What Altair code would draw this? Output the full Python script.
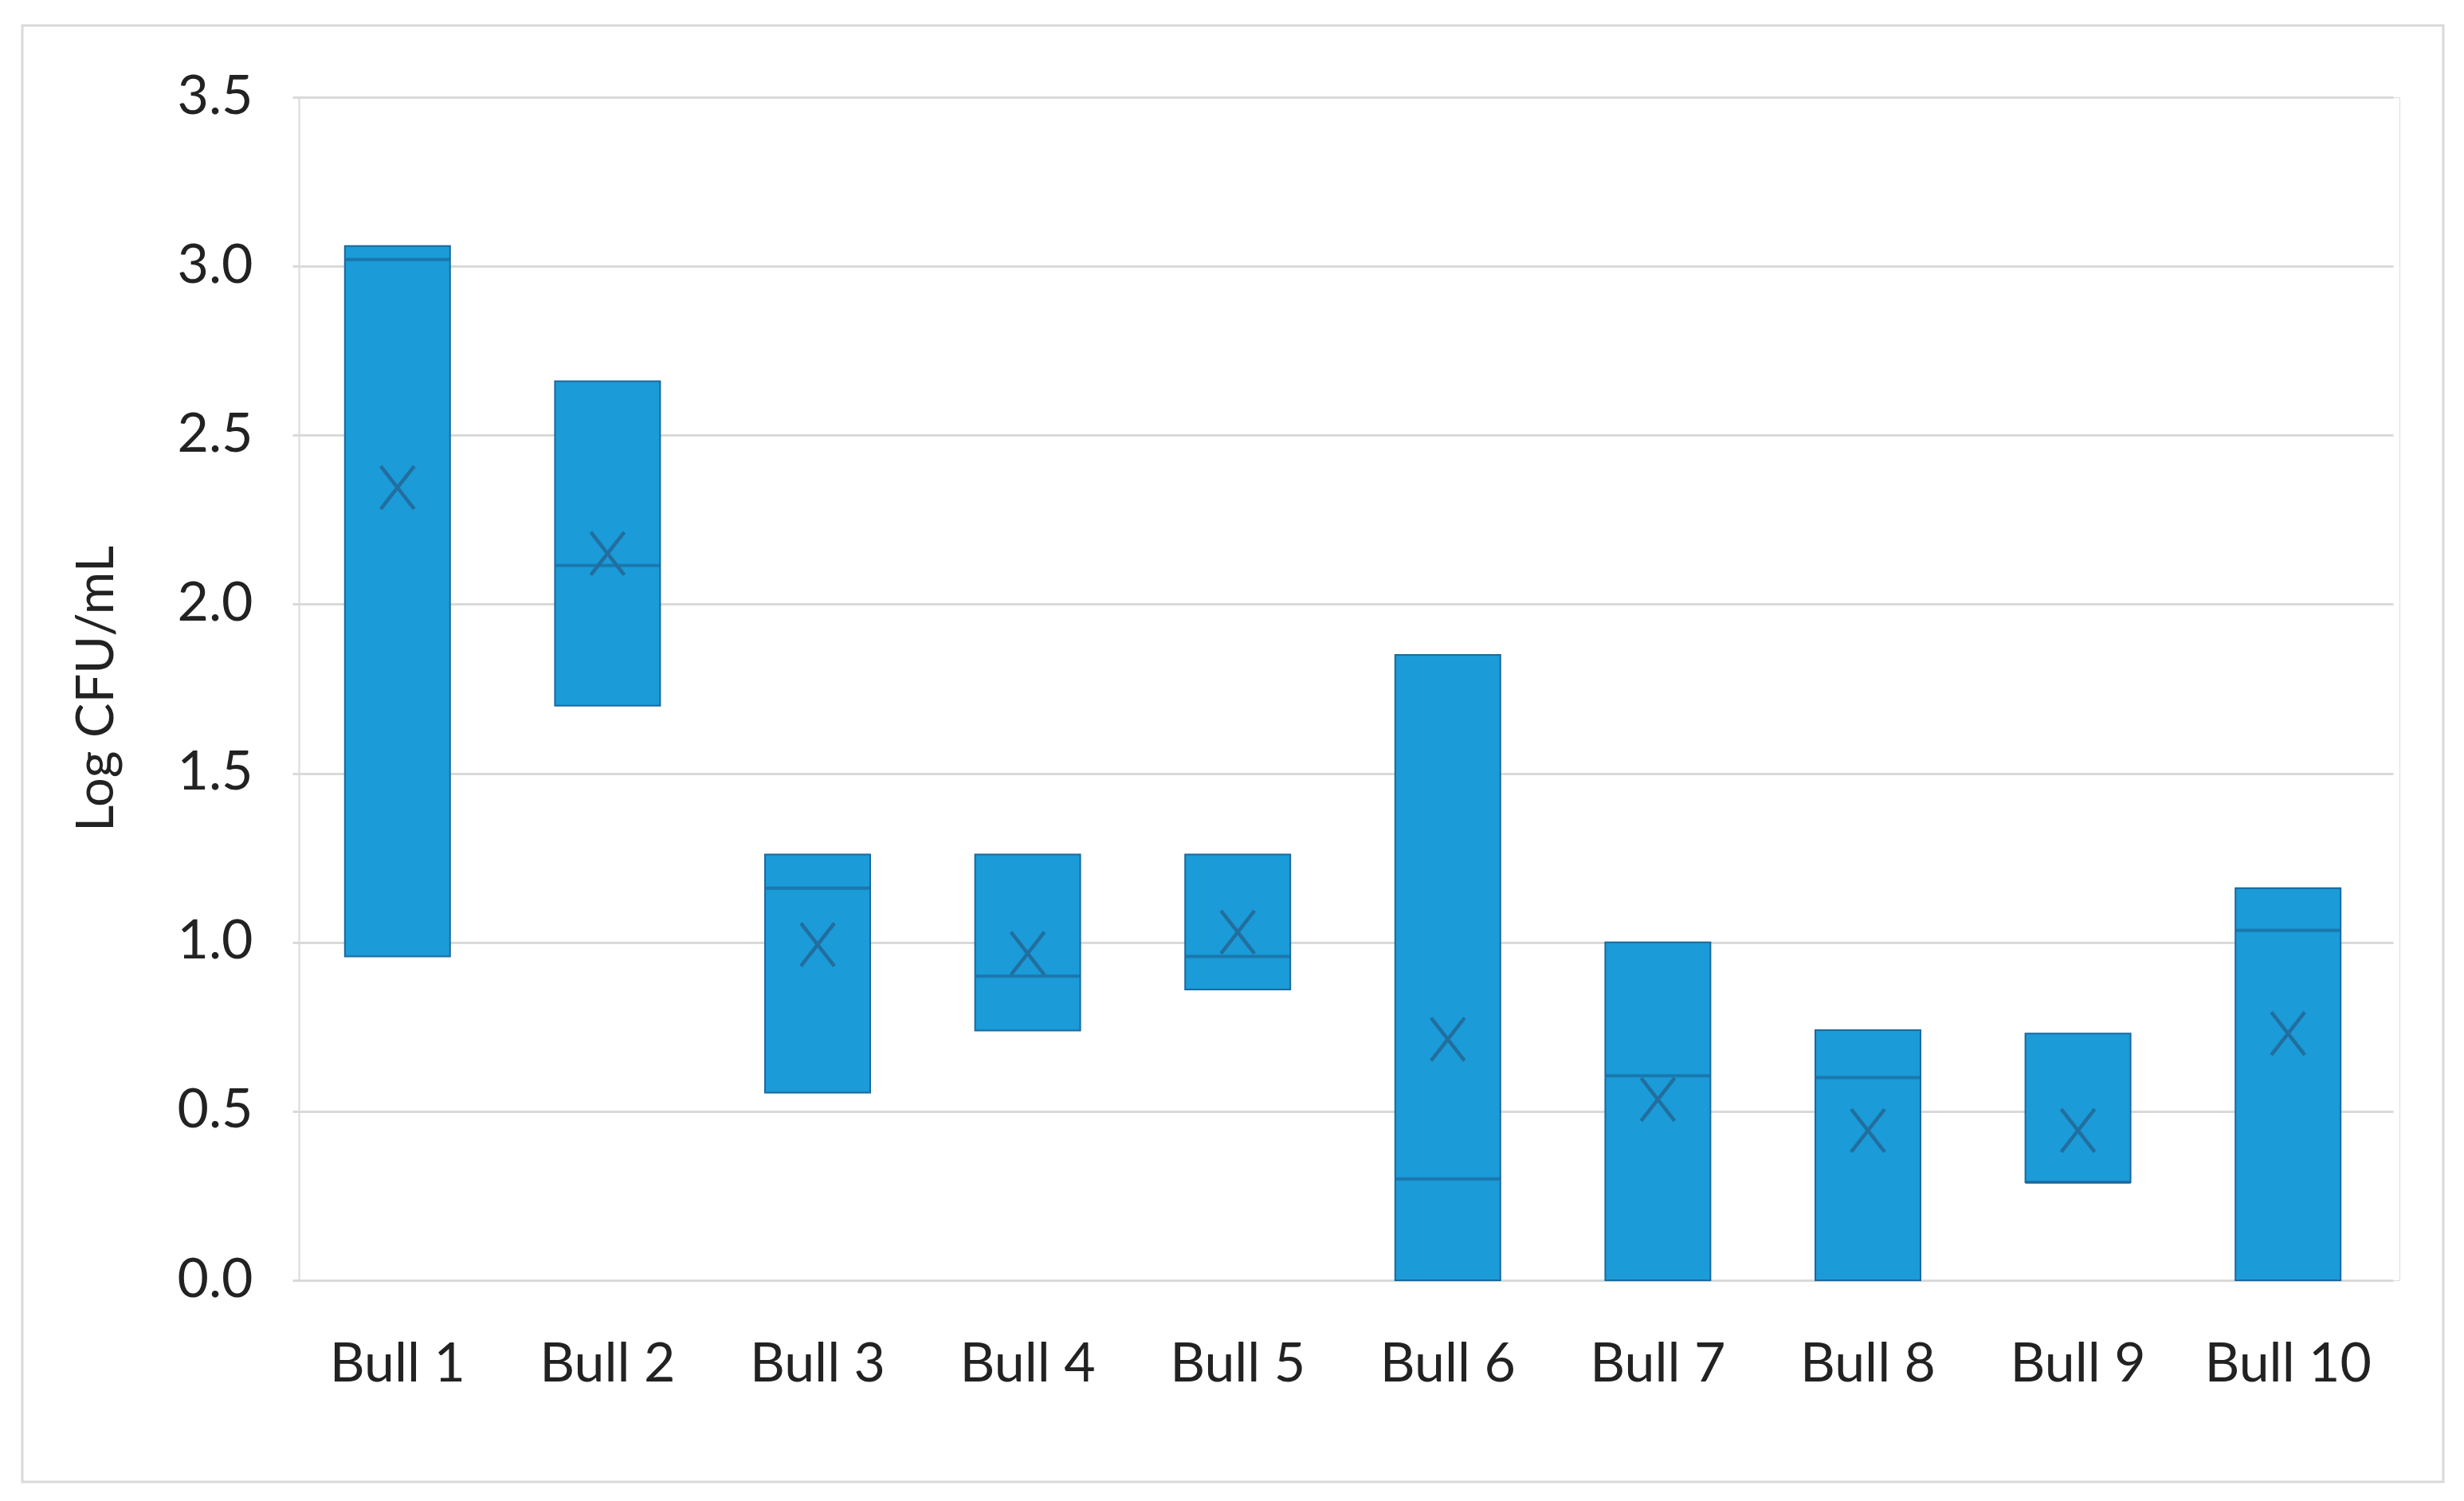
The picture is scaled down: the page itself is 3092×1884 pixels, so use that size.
import altair as alt
import pandas as pd

bulls = ["Bull 1", "Bull 2", "Bull 3", "Bull 4", "Bull 5",
         "Bull 6", "Bull 7", "Bull 8", "Bull 9", "Bull 10"]
low = [0.958, 1.70, 0.555, 0.739, 0.86, 0.0, 0.0, 0.0, 0.29, 0.0]
high = [3.06, 2.66, 1.26, 1.26, 1.26, 1.85, 1.0, 0.74, 0.73, 1.16]
median = [3.02, 2.115, 1.16, 0.90, 0.958, 0.30, 0.605, 0.60, 0.29, 1.035]
mean = [2.345, 2.15, 0.993, 0.967, 1.03, 0.713, 0.535, 0.443, 0.443, 0.73]
y_ticks = [0.0, 0.5, 1.0, 1.5, 2.0, 2.5, 3.0, 3.5]

df = pd.DataFrame({"bull": bulls, "low": low, "high": high,
                   "median": median, "mean": mean})

FONT = "Lato"
FILL = "#1B9BD7"
DARK = "#1A6A9E"
GRID = "#D9D9D9"

W, H = 2636, 1485

x = alt.X("bull:N", sort=bulls, title=None,
          scale=alt.Scale(paddingInner=0, paddingOuter=0, range=[-8, W - 8]),
          axis=alt.Axis(labelAngle=0, labelFont=FONT, labelFontSize=68,
                        labelColor="#222222", labelPadding=72, tickSize=0,
                        labelLimit=0, domain=False))
yscale = alt.Scale(domain=[0, 3.5], nice=False, zero=True)
yaxis = alt.Axis(values=y_ticks, format=".1f", labelFont=FONT, labelFontSize=68,
                 labelColor="#222222", labelPadding=58, tickSize=0,
                 grid=True, gridColor=GRID, gridWidth=3,
                 domain=True, domainColor=GRID, domainWidth=2,
                 title="Log CFU/mL", titleFont=FONT, titleFontSize=65,
                 titleFontWeight="normal", titleColor="#222222",
                 titleAngle=270, titleX=-220, titleY=742)

base = alt.Chart(df)

border = alt.Chart(alt.Data(values=[{"a": 1}])).mark_rect(
    filled=False, fillOpacity=0, stroke=GRID, strokeWidth=3
).encode(
    x=alt.value(-347), x2=alt.value(2691),
    y=alt.value(-90), y2=alt.value(1738)
)

bars = base.mark_bar(size=132, color=FILL, stroke=DARK, strokeWidth=2).encode(
    x=x,
    y=alt.Y("low:Q", scale=yscale, axis=yaxis),
    y2="high:Q",
)

med = base.mark_tick(size=132, thickness=4, color=DARK).encode(
    x=alt.X("bull:N", sort=bulls),
    y=alt.Y("median:Q"),
)

xmark = base.mark_point(
    shape="M-0.78,-1L0.78,1M-0.78,1L0.78,-1",
    size=2900, filled=False, stroke="#226E9E", strokeWidth=4.5, opacity=1
).encode(
    x=alt.X("bull:N", sort=bulls),
    y=alt.Y("mean:Q"),
)

chart = alt.layer(border, bars, med, xmark).properties(
    width=W, height=H,
    autosize=alt.AutoSizeParams(type="none"),
    padding={"left": 367, "top": 114, "right": 70, "bottom": 270},
).configure_view(stroke=None).configure(background="white")

chart.save("out.html", embed_options={"renderer": "svg", "actions": False})
